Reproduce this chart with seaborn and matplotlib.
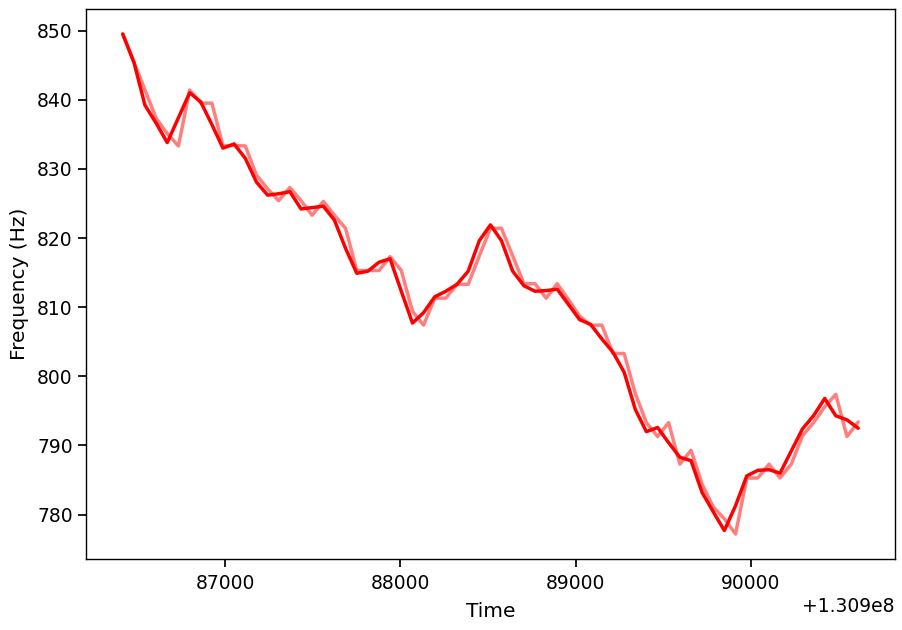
import matplotlib
matplotlib.use("Agg")
import matplotlib.pyplot as plt
import numpy as np
import pandas as pd
import seaborn as sns

# time offsets (s) relative to 1.309e8
time_rel = [
    86415, 86479, 86542, 86606, 86669, 86733, 86797, 86860, 86924, 86987,
    87051, 87115, 87178, 87242, 87305, 87369, 87433, 87496, 87560, 87623,
    87687, 87751, 87814, 87878, 87941, 88005, 88069, 88132, 88196, 88259,
    88323, 88387, 88450, 88514, 88577, 88641, 88705, 88768, 88832, 88895,
    88959, 89023, 89086, 89150, 89213, 89277, 89341, 89404, 89468, 89531,
    89595, 89659, 89722, 89786, 89849, 89913, 89977, 90040, 90104, 90167,
    90231, 90295, 90358, 90422, 90485, 90549, 90613,
]

# raw (faint) frequency track
freq_raw = [
    849.5, 845.4, 841.4, 837.3, 835.1, 833.3, 841.4, 839.5, 839.5, 833.3,
    833.4, 833.3, 829.1, 827.1, 825.4, 827.3, 825.4, 823.3, 825.3, 823.3,
    821.4, 815.3, 815.3, 815.3, 817.3, 815.3, 809.4, 807.4, 811.3, 811.3,
    813.3, 813.3, 817.4, 821.4, 821.4, 817.4, 813.4, 813.4, 811.3, 813.4,
    811.1, 808.7, 807.4, 807.4, 803.3, 803.3, 797.5, 793.3, 791.3, 793.3,
    787.3, 789.3, 784.4, 781.1, 779.4, 777.2, 785.3, 785.3, 787.3, 785.3,
    787.3, 791.4, 793.3, 795.6, 797.4, 791.3, 793.4,
]

# smoothed (solid) frequency track
freq_smooth = [
    849.5, 845.4, 839.2, 836.6, 833.8, 837.4, 841.0, 839.7, 836.4, 833.0,
    833.6, 831.5, 828.1, 826.2, 826.4, 826.7, 824.2, 824.4, 824.6, 822.6,
    818.5, 814.9, 815.2, 816.5, 817.0, 812.3, 807.7, 809.2, 811.5, 812.3,
    813.3, 815.2, 819.6, 821.9, 819.6, 815.2, 813.1, 812.3, 812.4, 812.6,
    810.4, 808.2, 807.5, 805.4, 803.5, 800.6, 795.2, 792.0, 792.6, 790.4,
    788.3, 787.8, 783.2, 780.4, 777.7, 781.3, 785.6, 786.4, 786.5, 786.0,
    789.2, 792.4, 794.3, 796.8, 794.3, 793.7, 792.5,
]

T0 = 1.309e8

sns.set_theme(style="ticks")
plt.rcParams.update(
    {
        "font.family": "DejaVu Sans",
        "axes.edgecolor": "black",
        "axes.labelcolor": "black",
        "text.color": "black",
        "xtick.color": "black",
        "ytick.color": "black",
        "xtick.labelsize": 13.5,
        "ytick.labelsize": 13.5,
        "axes.labelsize": 14.5,
        "axes.linewidth": 1.0,
        "xtick.major.size": 6,
        "ytick.major.size": 6,
        "xtick.major.pad": 4.5,
        "axes.formatter.useoffset": True,
    }
)

df = pd.DataFrame(
    {
        "Time": T0 + np.array(time_rel, dtype=float),
        "raw": freq_raw,
        "smooth": freq_smooth,
    }
)

fig = plt.figure(figsize=(9.02, 6.3), dpi=100)
ax = fig.add_axes([0.0953, 0.1127, 0.8969, 0.873])

sns.lineplot(data=df, x="Time", y="raw", color="red", alpha=0.5, linewidth=2.5, ax=ax)
sns.lineplot(data=df, x="Time", y="smooth", color="red", linewidth=2.5, ax=ax)

for side in ["top", "right"]:
    ax.spines[side].set_visible(True)
ax.set_xlabel("Time", labelpad=7)
ax.set_ylabel("Frequency (Hz)", labelpad=6)

fig.savefig("out.png", dpi=100, facecolor="white")
